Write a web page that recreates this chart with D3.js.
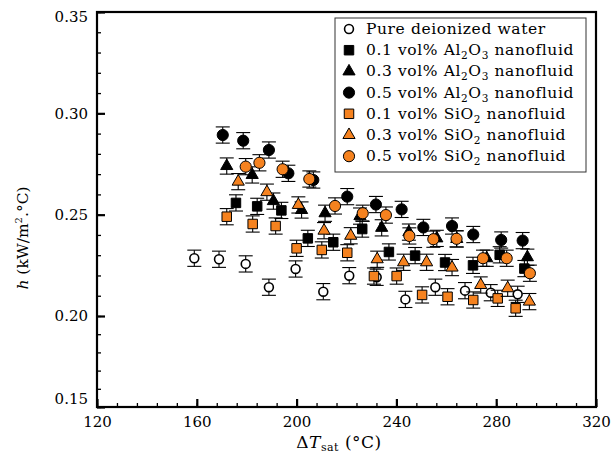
<!DOCTYPE html>
<html>
<head>
<meta charset="utf-8">
<script src="https://cdn.jsdelivr.net/npm/d3@7"></script>
<style>
  body { margin: 0; background: #fff; }
  svg { display: block; font-family: "DejaVu Serif", serif; }
</style>
</head>
<body>
<svg class="chart" width="612" height="457"></svg>
<script>
// wall superheat dT_sat (°C) and heat transfer coefficient h (kW/m2.°C)
let waterT = [159.0, 168.9, 179.6, 188.9, 199.6, 210.7, 221.1, 232.1, 243.6, 255.6, 267.5, 277.8, 288.6];
let waterH = [0.2285, 0.2280, 0.2257, 0.2142, 0.2232, 0.2120, 0.2199, 0.2191, 0.2082, 0.2142, 0.2125, 0.2115, 0.2107];
let al01T = [175.7, 184.2, 193.9, 204.5, 214.7, 226.3, 237.0, 247.5, 259.5, 270.7, 281.4, 291.3];
let al01H = [0.2558, 0.2541, 0.2521, 0.2383, 0.2364, 0.2429, 0.2316, 0.2298, 0.2264, 0.2250, 0.2302, 0.2234];
let al03T = [172.0, 182.2, 190.7, 202.0, 211.4, 225.4, 234.1, 245.0, 256.2, 264.2, 276.2, 292.5];
let al03H = [0.2740, 0.2696, 0.2567, 0.2523, 0.2507, 0.2493, 0.2435, 0.2414, 0.2383, 0.2380, 0.2285, 0.2290];
let al05T = [170.4, 178.6, 188.9, 196.7, 206.7, 220.3, 231.8, 242.1, 250.8, 262.3, 270.8, 282.0, 290.6];
let al05H = [0.2893, 0.2865, 0.2819, 0.2704, 0.2671, 0.2589, 0.2550, 0.2526, 0.2437, 0.2444, 0.2402, 0.2375, 0.2372];
let si01T = [172.0, 182.4, 191.6, 200.0, 210.1, 220.3, 231.0, 240.1, 250.3, 260.5, 270.8, 280.6, 287.8];
let si01H = [0.2490, 0.2454, 0.2444, 0.2334, 0.2326, 0.2312, 0.2197, 0.2197, 0.2104, 0.2095, 0.2079, 0.2087, 0.2038];
let si03T = [176.6, 188.1, 200.7, 211.0, 221.7, 232.3, 242.9, 252.1, 262.3, 273.8, 284.6, 293.3];
let si03H = [0.2663, 0.2611, 0.2548, 0.2421, 0.2396, 0.2280, 0.2265, 0.2265, 0.2239, 0.2153, 0.2137, 0.2071];
let si05T = [179.6, 185.1, 194.4, 205.1, 215.4, 226.5, 235.8, 245.2, 254.8, 264.1, 274.7, 284.2, 293.5];
let si05H = [0.2737, 0.2756, 0.2724, 0.2676, 0.2543, 0.2507, 0.2498, 0.2395, 0.2379, 0.2381, 0.2285, 0.2285, 0.2211];
let errH = 0.004; // half height of the error bars

let labels = [
  "Pure deionized water",
  "0.1 vol% Al_2O_3 nanofluid",
  "0.3 vol% Al_2O_3 nanofluid",
  "0.5 vol% Al_2O_3 nanofluid",
  "0.1 vol% SiO_2 nanofluid",
  "0.3 vol% SiO_2 nanofluid",
  "0.5 vol% SiO_2 nanofluid"
];
let xTicks = [120, 160, 200, 240, 280, 320];
let yTicks = [0.15, 0.20, 0.25, 0.30, 0.35];

let orange = "#f5821f";
let series = [
  {t: waterT, h: waterH, shape: d3.symbolCircle, size: 62, fill: "#fff", sw: 1.6},
  {t: al01T, h: al01H, shape: d3.symbolSquare, size: 90, fill: "#000", sw: 1},
  {t: al03T, h: al03H, shape: d3.symbolTriangle, size: 64, fill: "#000", sw: 1},
  {t: al05T, h: al05H, shape: d3.symbolCircle, size: 98, fill: "#000", sw: 1},
  {t: si01T, h: si01H, shape: d3.symbolSquare, size: 90, fill: orange, sw: 1},
  {t: si03T, h: si03H, shape: d3.symbolTriangle, size: 64, fill: orange, sw: 1},
  {t: si05T, h: si05H, shape: d3.symbolCircle, size: 98, fill: orange, sw: 1}
];
series.forEach((s, i) => s.label = labels[i]);

let svg = d3.select("body").select(".chart");
let margin = {top: 12, right: 16, bottom: 50, left: 97};
let plotWidth = 612 - margin.left - margin.right;
let plotHeight = 457 - margin.top - margin.bottom;

//scales (the printed figure is not evenly spaced below 0.20)
let xScale = d3.scaleLinear().domain([120, 320]).range([0, plotWidth]);
let yScale = d3.scaleLinear().domain([0.15, 0.20, 0.35]).range([plotHeight, 304, 0]);

let plot = svg.append("g").attr("id", "plot").attr("transform", translate(margin.left, margin.top));

//minor ticks
let xMinor = d3.axisBottom(xScale).tickValues(d3.range(120, 321, 8)).tickSize(-4).tickFormat("");
let yMinor = d3.axisLeft(yScale).tickValues(d3.range(15, 36).map(v => v / 100)).tickSize(-4).tickFormat("");
plot.append("g").attr("transform", translate(0, plotHeight)).call(xMinor);
plot.append("g").call(yMinor);

//major ticks + labels
let xAxis = d3.axisBottom(xScale).tickValues(xTicks).tickSize(-8).tickPadding(9).tickFormat(d3.format("d"));
let yAxis = d3.axisLeft(yScale).tickValues(yTicks).tickSize(-8).tickPadding(9).tickFormat(d3.format(".2f"));
let xGroup = plot.append("g").attr("id", "x-axis").attr("transform", translate(0, plotHeight)).call(xAxis);
let yGroup = plot.append("g").attr("id", "y-axis").call(yAxis);

plot.selectAll(".domain").remove();
plot.selectAll(".tick line").attr("stroke", "#000").attr("stroke-width", 1.3);
xGroup.selectAll(".tick line").attr("stroke-width", 2.2);
yGroup.selectAll(".tick line").attr("stroke-width", 2.2);
plot.selectAll(".tick text").attr("font-family", "DejaVu Serif").attr("font-size", 15).attr("fill", "#000");
// end labels sit a bit inside the frame in the original
yGroup.selectAll(".tick text").attr("dy", d => d === 0.35 ? "0.62em" : d === 0.15 ? "-0.25em" : "0.32em");

//error bars and markers
series.forEach(s => {
  let pts = s.t.map((t, i) => ({t: t, h: s.h[i]}));
  let g = plot.append("g");
  let eb = g.selectAll(".eb").data(pts).enter().append("g")
    .attr("stroke", "#000").attr("stroke-width", 1.1);
  eb.append("line")
    .attr("x1", d => xScale(d.t)).attr("x2", d => xScale(d.t))
    .attr("y1", d => yScale(d.h - errH)).attr("y2", d => yScale(d.h + errH));
  [-1, 1].forEach(k => {
    eb.append("line")
      .attr("x1", d => xScale(d.t) - 7).attr("x2", d => xScale(d.t) + 7)
      .attr("y1", d => yScale(d.h + k * errH)).attr("y2", d => yScale(d.h + k * errH));
  });
  g.selectAll(".mk").data(pts).enter().append("path")
    .attr("d", d3.symbol().type(s.shape).size(s.size))
    .attr("transform", d => translate(xScale(d.t), yScale(d.h)))
    .attr("fill", s.fill).attr("stroke", "#000").attr("stroke-width", s.sw);
});

//frame
plot.append("rect").attr("width", plotWidth).attr("height", plotHeight)
  .attr("fill", "none").attr("stroke", "#000").attr("stroke-width", 2.2);

//legend
let legend = svg.append("g").attr("transform", translate(335, 18));
legend.append("rect").attr("width", 251).attr("height", 154)
  .attr("fill", "#fff").attr("stroke", "#333").attr("stroke-width", 1);
series.forEach((s, i) => {
  let y = 11 + i * 21.2;
  legend.append("path")
    .attr("d", d3.symbol().type(s.shape).size(s.size))
    .attr("transform", translate(14, y))
    .attr("fill", s.fill).attr("stroke", "#000").attr("stroke-width", s.sw);
  let txt = legend.append("text").attr("x", 31).attr("y", y + 5)
    .attr("font-size", 15.5).attr("letter-spacing", 0.6);
  richText(txt, s.label, 15.5);
});

//axis labels
let xl = svg.append("text").attr("x", 339).attr("y", 448).attr("text-anchor", "middle")
  .attr("font-size", 17).attr("letter-spacing", 0.5);
xl.append("tspan").text("\u0394");
xl.append("tspan").attr("font-style", "italic").text("T");
xl.append("tspan").attr("font-size", 11).attr("dy", 3).text("sat");
xl.append("tspan").attr("dy", -3).text(" (\u00b0C)");

let yl = svg.append("text").attr("transform", translate(28, 238) + " rotate(-90)")
  .attr("text-anchor", "middle").attr("font-size", 15.5);
yl.append("tspan").attr("font-style", "italic").text("h");
yl.append("tspan").text(" (kW/m");
yl.append("tspan").attr("font-size", 10).attr("dy", -6).text("2");
yl.append("tspan").attr("dy", 6).text(".\u00b0C)");

function richText(sel, label, size) {
  let shift = 0;
  label.split(/(_\d)/).filter(p => p).forEach(p => {
    if (p[0] === "_") {
      sel.append("tspan").attr("font-size", size * 0.68).attr("dy", 4 - shift).text(p.slice(1));
      shift = 4;
    } else {
      sel.append("tspan").attr("dy", -shift).text(p);
      shift = 0;
    }
  });
}

function translate(x, y) {
  return 'translate(' + x + ',' + y + ')';
}
</script>
</body>
</html>
